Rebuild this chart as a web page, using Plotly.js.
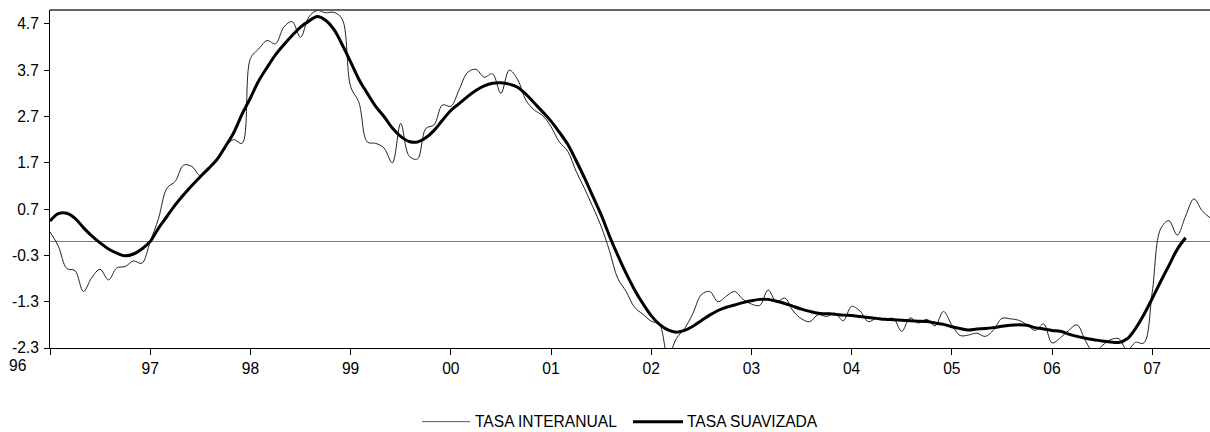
<!DOCTYPE html>
<html>
<head>
<meta charset="utf-8">
<script src="https://cdn.plot.ly/plotly-3.0.1.min.js"></script>
<style>html,body{margin:0;padding:0;background:#fff;}#chart{width:1210px;height:432px;}</style>
</head>
<body>
<div id="chart"></div>
<script>
// Monthly series starting January 1996
const startYear = 1996;
const interanual = [
  0.21,-0.10,-0.58,-0.63,-1.08,-0.78,-0.60,-0.83,-0.57,-0.54,-0.42,-0.47,
  0.00,0.50,1.15,1.30,1.65,1.62,1.42,1.55,1.78,2.05,2.20,2.12,
  3.95,4.16,4.34,4.27,4.63,4.75,4.41,4.85,4.99,4.94,4.95,4.80,
  3.35,3.00,2.15,2.12,2.02,1.70,2.55,1.85,1.78,2.44,2.52,2.95,
  2.92,3.28,3.65,3.72,3.55,3.62,3.20,3.70,3.50,3.05,2.84,2.72,
  2.48,2.15,1.95,1.52,1.15,0.75,0.33,-0.20,-0.80,-1.08,-1.42,-1.57,
  -1.72,-1.80,-2.50,-2.10,-1.88,-1.55,-1.15,-1.08,-1.30,-1.18,-1.08,-1.25,
  -1.35,-1.38,-1.05,-1.30,-1.22,-1.50,-1.67,-1.73,-1.58,-1.62,-1.55,-1.71,
  -1.40,-1.50,-1.73,-1.66,-1.69,-1.66,-1.94,-1.65,-1.76,-1.68,-1.82,-1.51,
  -1.80,-2.03,-2.02,-1.98,-2.05,-1.91,-1.66,-1.67,-1.70,-1.80,-1.92,-1.78,
  -2.19,-2.08,-1.92,-1.80,-2.14,-2.40,-2.25,-2.12,-2.10,-2.35,-2.18,-2.19,
  -1.10,0.27,0.45,0.14,0.55,0.92,0.66,0.50
];
const suavizada = [
  0.44,0.60,0.61,0.50,0.30,0.12,-0.03,-0.16,-0.25,-0.31,-0.27,-0.16,
  0.00,0.29,0.54,0.79,1.01,1.21,1.40,1.58,1.77,2.05,2.35,2.75,
  3.10,3.47,3.76,4.03,4.25,4.45,4.63,4.76,4.86,4.78,4.58,4.25,
  3.88,3.50,3.20,2.92,2.70,2.45,2.27,2.16,2.15,2.24,2.40,2.62,
  2.83,2.98,3.13,3.26,3.36,3.42,3.43,3.40,3.33,3.18,2.99,2.80,
  2.60,2.36,2.10,1.75,1.38,0.98,0.58,0.12,-0.30,-0.69,-1.04,-1.34,
  -1.60,-1.79,-1.91,-1.96,-1.92,-1.83,-1.71,-1.59,-1.49,-1.42,-1.37,-1.32,
  -1.28,-1.25,-1.25,-1.29,-1.34,-1.40,-1.46,-1.51,-1.55,-1.56,-1.57,-1.59,
  -1.60,-1.62,-1.64,-1.66,-1.68,-1.69,-1.70,-1.71,-1.72,-1.73,-1.76,-1.79,
  -1.84,-1.88,-1.91,-1.89,-1.88,-1.86,-1.83,-1.81,-1.80,-1.81,-1.86,-1.89,
  -1.92,-1.94,-2.00,-2.05,-2.09,-2.12,-2.15,-2.17,-2.18,-2.10,-1.88,-1.58,
  -1.23,-0.87,-0.52,-0.17,0.08
];
const yearTicks = [1996,1997,1998,1999,2000,2001,2002,2003,2004,2005,2006,2007];
const yearLabels = ['96','97','98','99','00','01','02','03','04','05','06','07'];
const yTickVals = [-2.3,-1.3,-0.3,0.7,1.7,2.7,3.7,4.7];
const yTickLabels = ['-2.3','-1.3','-0.3','0.7','1.7','2.7','3.7','4.7'];
const seriesNames = ['TASA INTERANUAL','TASA SUAVIZADA'];

const monthX = arr => arr.map((_, i) => startYear + i / 12);
const xRange = [1996, 1996 + 1160 / 100.2];
const yRange = [-2.3, 5.0];
const FONT = 'Liberation Sans, Arial, Helvetica, sans-serif';
const FS = 15.6;

const traces = [
  {x: monthX(interanual), y: interanual, name: seriesNames[0], type: 'scatter', mode: 'lines',
   line: {color: '#222', width: 1, shape: 'spline', smoothing: 1}, hoverinfo: 'skip'},
  {x: monthX(suavizada), y: suavizada, name: seriesNames[1], type: 'scatter', mode: 'lines',
   line: {color: '#000', width: 3, shape: 'spline', smoothing: 1}, hoverinfo: 'skip'}
];

const layout = {
  width: 1210, height: 432,
  margin: {l: 50, r: 0, t: 10, b: 84, pad: 0},
  paper_bgcolor: '#fff', plot_bgcolor: '#fff',
  showlegend: false,
  font: {family: FONT, size: FS, color: '#000'},
  xaxis: {
    range: xRange, tickmode: 'array', tickvals: yearTicks,
    ticktext: yearLabels.map((t, i) => i === 0 ? '' : t),
    ticks: 'outside', ticklen: 6, tickcolor: '#000', tickwidth: 1,
    showline: true, linecolor: '#000', linewidth: 1,
    showgrid: false, zeroline: false, tickfont: {family: FONT, size: FS, color: '#000'}
  },
  yaxis: {
    range: yRange, tickmode: 'array', tickvals: yTickVals, ticktext: yTickLabels,
    ticks: 'outside', ticklen: 5, tickcolor: '#000', tickwidth: 1,
    showline: true, linecolor: '#000', linewidth: 1, ticklabelstandoff: 2,
    showgrid: false, zeroline: false, tickfont: {family: FONT, size: FS, color: '#000'}
  },
  shapes: [
    {type: 'line', xref: 'paper', yref: 'y', x0: 0, x1: 1, y0: 0, y1: 0, layer: 'below', line: {color: '#7a7a7a', width: 1.2}},
    {type: 'line', xref: 'paper', yref: 'paper', x0: 0, x1: 1, y0: 1, y1: 1, line: {color: '#333', width: 1.5}},
    {type: 'line', xref: 'paper', yref: 'paper', x0: (422 - 50) / 1160, x1: (470 - 50) / 1160, y0: -0.218, y1: -0.218, line: {color: '#555', width: 1}},
    {type: 'line', xref: 'paper', yref: 'paper', x0: (633 - 50) / 1160, x1: (683 - 50) / 1160, y0: -0.218, y1: -0.218, line: {color: '#000', width: 3}}
  ],
  annotations: [
    {xref: 'paper', yref: 'paper', x: (17 - 50) / 1160, y: -0.0504, text: yearLabels[0], showarrow: false, xanchor: 'center', yanchor: 'middle', font: {family: FONT, size: FS, color: '#000'}},
    {xref: 'paper', yref: 'paper', x: (473 - 50) / 1160, y: -0.218, text: seriesNames[0], showarrow: false, xanchor: 'left', yanchor: 'middle', font: {family: FONT, size: FS, color: '#000'}},
    {xref: 'paper', yref: 'paper', x: (685 - 50) / 1160, y: -0.218, text: seriesNames[1], showarrow: false, xanchor: 'left', yanchor: 'middle', font: {family: FONT, size: FS, color: '#000'}}
  ]
};

Plotly.newPlot('chart', traces, layout, {staticPlot: true, displayModeBar: false});
</script>
</body>
</html>
